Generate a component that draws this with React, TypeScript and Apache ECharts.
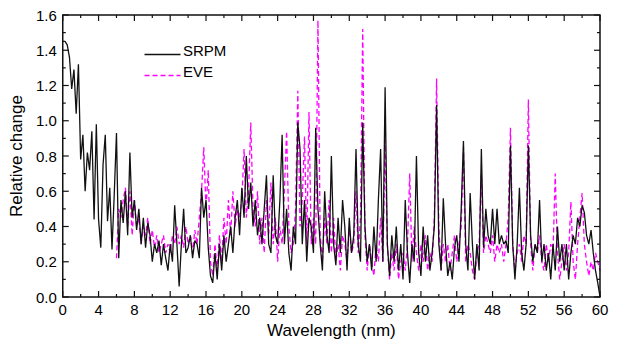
import React, { useEffect, useRef } from "react";
import * as echarts from "echarts";

// Wavelength sampling (nm)
const srpmStart = 0;
const eveStart = 6;
const step = 0.25;

// SRPM relative change, sampled every 0.25 nm from 0 to 60 nm
const srpmValues = [
  1.45, 1.45, 1.43, 1.36, 1.18, 1.29, 1.04, 1.32, 0.78, 0.92, 0.6, 0.82, 0.72, 0.94, 0.44, 0.98,
  0.44, 0.28, 0.75, 0.92, 0.43, 0.62, 0.27, 0.58, 0.93, 0.22, 0.55, 0.42, 0.6, 0.35, 0.82, 0.45,
  0.55, 0.38, 0.5, 0.3, 0.45, 0.28, 0.42, 0.35, 0.2, 0.3, 0.25, 0.32, 0.18, 0.3, 0.22, 0.15,
  0.3, 0.2, 0.52, 0.3, 0.06, 0.3, 0.5, 0.25, 0.28, 0.35, 0.22, 0.32, 0.3, 0.22, 0.62, 0.45,
  0.55, 0.28, 0.12, 0.08, 0.25, 0.1, 0.3, 0.15, 0.35, 0.2, 0.3, 0.4, 0.25, 0.45, 0.55, 0.35,
  0.62, 0.45, 0.8, 0.5, 0.65, 0.4, 0.55, 0.35, 0.45, 0.3, 0.5, 0.69, 0.3, 0.25, 0.69, 0.35,
  0.3, 0.55, 0.92, 0.3, 0.5, 0.25, 0.15, 0.4, 0.3, 0.99, 0.84, 0.3, 0.55, 0.2, 0.45, 0.4,
  0.25, 0.96, 0.5, 0.3, 0.15, 0.6, 0.35, 0.25, 0.8, 0.3, 0.18, 0.45, 0.25, 0.55, 0.4, 0.15,
  0.45, 0.25, 0.35, 0.84, 0.3, 0.2, 0.99, 0.4, 0.2, 0.3, 0.15, 0.4, 0.2, 0.55, 0.84, 0.2,
  1.19, 0.3, 0.12, 0.35, 0.2, 0.4, 0.15, 0.3, 0.1, 0.55, 0.25, 0.08, 0.3, 0.2, 0.8, 0.25,
  0.12, 0.4, 0.2, 0.35, 0.15, 0.25, 0.4, 1.09, 0.3, 0.15, 0.56, 0.3, 0.12, 0.2, 0.1, 0.28,
  0.35, 0.2, 0.5, 0.885, 0.3, 0.15, 0.59, 0.3, 0.1, 0.3, 0.15, 0.84, 0.28, 0.5, 0.35, 0.3,
  0.5, 0.3, 0.5, 0.3, 0.35, 0.3, 0.32, 0.25, 0.86, 0.3, 0.1, 0.3, 0.62, 0.25, 0.15, 0.3,
  0.86, 0.35, 0.2, 0.3, 0.25, 0.55, 0.2, 0.3, 0.15, 0.25, 0.1, 0.3, 0.15, 0.4, 0.2, 0.3,
  0.15, 0.3, 0.1, 0.25, 0.35, 0.3, 0.45, 0.4, 0.52, 0.48, 0.35, 0.3, 0.38, 0.25, 0.15, 0.08,
  0.0,
];

// EVE relative change, sampled every 0.25 nm from 6 to 60 nm
const eveValues = [
  0.22, 0.5, 0.45, 0.55, 0.62, 0.4, 0.6, 0.35, 0.55, 0.4, 0.45, 0.3, 0.4, 0.35, 0.45, 0.3,
  0.38, 0.28, 0.35, 0.25, 0.3, 0.35, 0.25, 0.3, 0.25, 0.35, 0.3, 0.4, 0.3, 0.35, 0.28, 0.4,
  0.3, 0.35, 0.25, 0.38, 0.3, 0.45, 0.6, 0.85, 0.5, 0.72, 0.2, 0.12, 0.3, 0.15, 0.35, 0.2,
  0.45, 0.3, 0.55, 0.35, 0.6, 0.4, 0.5, 0.45, 0.55, 0.84, 0.45, 0.6, 0.99, 0.5, 0.4, 0.6,
  0.3, 0.45, 0.25, 0.55, 0.35, 0.65, 0.3, 0.45, 0.2, 0.4, 0.3, 0.6, 0.94, 0.4, 0.25, 0.3,
  0.5, 1.17, 0.4, 0.55, 0.91, 0.3, 1.05, 0.3, 0.45, 0.3, 1.57, 0.35, 0.2, 0.45, 0.3, 0.55,
  0.25, 0.45, 0.2, 0.3, 0.15, 0.35, 0.3, 0.2, 0.4, 0.25, 0.3, 0.6, 0.25, 0.45, 1.52, 0.35,
  0.15, 0.3, 0.2, 0.12, 0.3, 0.2, 0.45, 0.2, 0.89, 0.3, 0.1, 0.25, 0.15, 0.3, 0.1, 0.2,
  0.25, 0.15, 0.3, 0.7, 0.2, 0.4, 0.25, 0.15, 0.3, 0.2, 0.35, 0.15, 0.25, 0.2, 0.45, 1.24,
  0.4, 0.15, 0.3, 0.2, 0.3, 0.15, 0.25, 0.35, 0.2, 0.3, 0.4, 0.85, 0.2, 0.3, 0.25, 0.15,
  0.1, 0.25, 0.3, 0.7, 0.25, 0.35, 0.3, 0.25, 0.35, 0.2, 0.3, 0.25, 0.3, 0.2, 0.3, 0.45,
  0.96, 0.3, 0.15, 0.25, 0.3, 0.2, 0.35, 0.3, 1.12, 0.3, 0.15, 0.3, 0.25, 0.35, 0.2, 0.15,
  0.3, 0.2, 0.3, 0.25, 0.7, 0.25, 0.1, 0.2, 0.3, 0.15, 0.25, 0.54, 0.2, 0.1, 0.3, 0.45,
  0.59, 0.3, 0.2, 0.12, 0.2, 0.15, 0.25, 0.2, 0.15,
];

// Tick positions
const xMajorTicks = [0, 4, 8, 12, 16, 20, 24, 28, 32, 36, 40, 44, 48, 52, 56, 60];
const xMinorTicks = [2, 6, 10, 14, 18, 22, 26, 30, 34, 38, 42, 46, 50, 54, 58];
const yMajorTicks = [0, 0.2, 0.4, 0.6, 0.8, 1.0, 1.2, 1.4, 1.6];
const yMinorTicks = [0.1, 0.3, 0.5, 0.7, 0.9, 1.1, 1.3, 1.5];

const seriesNames = ["SRPM", "EVE"];
const seriesColors = ["#111111", "#ff00ff"];
const xRange = { min: 0, max: 60, interval: 4 };
const yRange = { min: 0, max: 1.6, interval: 0.2 };

const toPairs = (start: number, vals: number[]) =>
  vals.map((v, i) => [+(start + i * step).toFixed(2), v]);

const font = "Liberation Sans, Arial, sans-serif";
const frameColor = "#111111";

// frame + ticks items: [value, kind (0 = x tick, 1 = y tick, 2 = frame), length, 0]
const frameItems = [
  [0, 2, 0, 0],
  ...xMajorTicks.map((v) => [v, 0, 6, 0]),
  ...xMinorTicks.map((v) => [v, 0, 3, 0]),
  ...yMajorTicks.map((v) => [v, 1, 6, 0]),
  ...yMinorTicks.map((v) => [v, 1, 3, 0]),
];

export default function App() {
  const ref = useRef<HTMLDivElement>(null);
  useEffect(() => {
    if (!ref.current) return;
    const chart = echarts.init(ref.current, undefined, { renderer: "svg" });
    const tickStyle = { stroke: frameColor, lineWidth: 1.2 };
    chart.setOption({
      animation: false,
      grid: { left: 62, right: 17, top: 15, bottom: 51 },
      graphic: [
        { type: "line", left: 142, top: 52, shape: { x1: 0, y1: 0, x2: 36, y2: 0 }, style: { stroke: seriesColors[0], lineWidth: 1.3 } },
        { type: "text", left: 183, top: 43, style: { text: seriesNames[0], font: `15px ${font}`, fill: "#000" } },
        { type: "line", left: 142, top: 73, shape: { x1: 0, y1: 0, x2: 36, y2: 0 }, style: { stroke: seriesColors[1], lineWidth: 1.3, lineDash: [5, 3] } },
        { type: "text", left: 183, top: 64, style: { text: seriesNames[1], font: `15px ${font}`, fill: "#000" } },
      ],
      xAxis: {
        type: "value",
        ...xRange,
        name: "Wavelength (nm)",
        nameLocation: "middle",
        nameGap: 25,
        nameTextStyle: { fontFamily: font, fontSize: 17, color: "#000" },
        axisLine: { show: false },
        axisTick: { show: false },
        splitLine: { show: false },
        axisLabel: { fontFamily: font, fontSize: 15, color: "#000", margin: 5 },
      },
      yAxis: {
        type: "value",
        ...yRange,
        name: "Relative change",
        nameLocation: "middle",
        nameGap: 35,
        nameTextStyle: { fontFamily: font, fontSize: 17, color: "#000" },
        axisLine: { show: false },
        axisTick: { show: false },
        splitLine: { show: false },
        axisLabel: {
          fontFamily: font,
          fontSize: 15,
          color: "#000",
          margin: 6,
          formatter: (v: number) => v.toFixed(1),
        },
      },
      series: [
        {
          name: seriesNames[1],
          type: "line",
          data: toPairs(eveStart, eveValues),
          showSymbol: false,
          symbol: "none",
          lineStyle: { color: seriesColors[1], width: 1.3, type: [5, 3] },
          itemStyle: { color: seriesColors[1] },
          z: 2,
        },
        {
          name: seriesNames[0],
          type: "line",
          data: toPairs(srpmStart, srpmValues),
          showSymbol: false,
          symbol: "none",
          lineStyle: { color: seriesColors[0], width: 1.3 },
          itemStyle: { color: seriesColors[0] },
          z: 3,
        },
        {
          name: "frame",
          type: "custom",
          silent: true,
          clip: false,
          z: 5,
          encode: { x: 0, y: 3 },
          data: frameItems,
          renderItem: (params: any, api: any) => {
            const cs = params.coordSys;
            const v = api.value(0);
            const kind = api.value(1);
            const len = api.value(2);
            if (kind === 2) {
              return {
                type: "rect",
                shape: { x: cs.x, y: cs.y, width: cs.width, height: cs.height },
                style: { fill: "none", stroke: frameColor, lineWidth: 1.5 },
              };
            }
            if (kind === 0) {
              const x = api.coord([v, 0])[0];
              const yb = cs.y + cs.height;
              return {
                type: "group",
                children: [
                  { type: "line", shape: { x1: x, y1: yb, x2: x, y2: yb - len }, style: tickStyle },
                  { type: "line", shape: { x1: x, y1: cs.y, x2: x, y2: cs.y + len }, style: tickStyle },
                ],
              };
            }
            const y = api.coord([0, v])[1];
            const xr = cs.x + cs.width;
            return {
              type: "group",
              children: [
                { type: "line", shape: { x1: cs.x, y1: y, x2: cs.x + len, y2: y }, style: tickStyle },
                { type: "line", shape: { x1: xr, y1: y, x2: xr - len, y2: y }, style: tickStyle },
              ],
            };
          },
        },
      ],
    });
    return () => chart.dispose();
  }, []);
  return <div ref={ref} style={{ width: 617, height: 348, position: "absolute", left: 0, top: 0 }} />;
}
